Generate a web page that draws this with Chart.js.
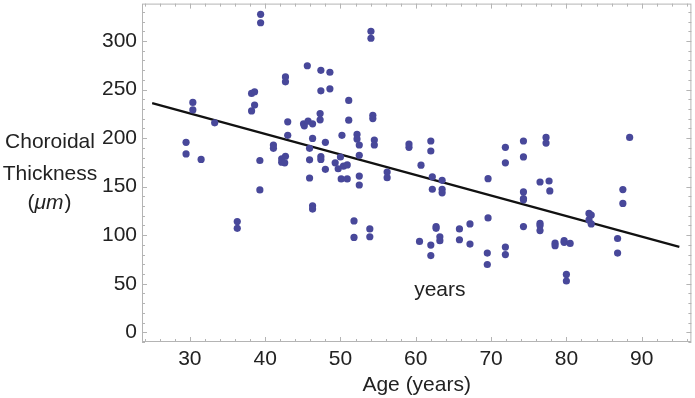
<!DOCTYPE html>
<html>
<head>
<meta charset="utf-8">
<script src="https://cdn.jsdelivr.net/npm/chart.js@4/dist/chart.umd.min.js"></script>
<style>
  html,body{margin:0;padding:0;background:#fff;}
  #wrap{width:695px;height:398px;}
</style>
</head>
<body>
<div id="wrap"><canvas id="choroid"></canvas></div>
<script>
// age (years) and choroidal thickness (um)
let ages=[39.4,39.4,45.6,47.4,48.6,42.7,42.7,47.4,48.6,38.2,38.6,30.4,30.4,38.6,38.2,47.3,47.3,33.3,43,45.1,45.2,45.7,46.3,43,29.5,29.5,31.5,41.1,41.1,46.3,48,45.9,39.3,42.2,42.7,42.2,42.6,45.9,47.4,47.4,48,45.9,49.3,49.7,50,
  54.05,54.05,51.1,51.1,54.3,54.3,50.2,52.2,52.2,52.5,54.5,54.5,59.1,59.1,62,62,71.9,71.9,74.3,74.3,52.5,50.4,50.9,60.7,56.2,56.2,52.5,50.1,50.9,62.2,63.5,69.6,
  77.3,77.3,88.4,76.5,77.7,
  39.3,46.3,46.3,36.3,36.3,
  52.5,62.2,63.5,63.5,74.3,74.3,74.3,51.8,51.8,53.9,53.9,60.5,62,62,62.7,62.7,63.2,63.2,65.8,65.8,67.2,67.2,69.6,69.5,69.5,71.9,71.9,74.3,
  77.8,76.5,76.5,76.5,78.5,78.5,79.7,79.7,80.5,80,80,83,83.3,83,83.3,87.5,87.5,86.8,86.8];
let thickness=[327.5,318.8,274.5,269.8,267.8,263,257.9,248.7,250.7,246,247.7,236.7,229,234,228,225.2,218.8,215.7,216.7,214.7,212.6,217.4,214.7,202.8,195.6,183.7,178,192.9,189.5,199.7,195.6,189.5,176.9,178.6,181.3,175.2,174.5,177.6,181,178,167.8,158.9,174.5,168.4,180.5,
  309.9,302.8,238.8,218.4,223.5,220.1,202.8,203.8,199,192.9,198,192.9,193.9,190.5,197,186.7,190.5,174.5,197,180.6,182.3,171.1,172.4,172.1,165,159.2,160.9,157.9,157.9,160.2,156.5,158.2,
  200.7,194.9,200.7,154.8,155.8,
  146.6,130.3,126.9,114,107.1,
  151.7,147.3,147.3,143.6,144.6,137.8,136.4,114.7,97.7,106.5,98.4,93.6,89.8,79,108.9,107.1,98.4,94.3,106.5,95.3,111.6,90.8,117.8,81.6,69.8,87.8,80,108.9,
  145.6,112.2,109.9,104.8,91.8,89.2,94.3,92.6,91.5,59.6,52.8,122.4,120.8,115.7,111.6,147,132.7,96.6,81.6];
// fitted trend line end points
let fitAges=[25,95];
let fitValues=[236,88];
let xTicks=[30,40,50,60,70,80,90];
let yTicks=[0,50,100,150,200,250,300];

var pts=[];
for(var i=0;i<ages.length;i++){
    pts.push({x:ages[i],y:thickness[i]});
}
var fit=[];
for(var i=0;i<fitAges.length;i++){
    fit.push({x:fitAges[i],y:fitValues[i]});
}

var FONT='"Liberation Sans", Arial, sans-serif';
var TXT='#222';

// frame with small inward ticks on all four sides, plus the extra labels
var framePlugin={
    id:'frame',
    afterDraw:function(chart){
        var ctx=chart.ctx, a=chart.chartArea;
        var xs=chart.scales.x, ys=chart.scales.y;
        ctx.save();
        ctx.strokeStyle='#b4b4b4';
        ctx.lineWidth=1;
        ctx.strokeRect(a.left+0.5,a.top+0.5,a.right-a.left-1,a.bottom-a.top-1);
        ctx.beginPath();
        for(var v=24;v<=96;v+=2){
            var px=Math.round(xs.getPixelForValue(v))+0.5;
            var len=(v%10===0)?5:3;
            ctx.moveTo(px,a.bottom);ctx.lineTo(px,a.bottom-len);
            ctx.moveTo(px,a.top);ctx.lineTo(px,a.top+len);
        }
        for(var v=-10;v<=330;v+=10){
            var py=Math.round(ys.getPixelForValue(v))+0.5;
            var len=(v%50===0)?5:3;
            ctx.moveTo(a.left,py);ctx.lineTo(a.left+len,py);
            ctx.moveTo(a.right,py);ctx.lineTo(a.right-len,py);
        }
        ctx.stroke();

        ctx.fillStyle=TXT;
        ctx.font='21px '+FONT;
        ctx.textAlign='center';
        ctx.textBaseline='alphabetic';
        ctx.fillText('Choroidal',50,148);
        ctx.fillText('Thickness',50,179.5);
        // (μm) with italic unit
        var open='(', unit='\u03bcm', close=')';
        ctx.font='21px '+FONT;
        var w1=ctx.measureText(open).width, w3=ctx.measureText(close).width;
        ctx.font='italic 21px '+FONT;
        var w2=ctx.measureText(unit).width;
        var x0=49-(w1+w2+w3)/2;
        ctx.textAlign='left';
        ctx.font='21px '+FONT;
        ctx.fillText(open,x0,209);
        ctx.font='italic 21px '+FONT;
        ctx.fillText(unit,x0+w1,209);
        ctx.font='21px '+FONT;
        ctx.fillText(close,x0+w1+w2+1,209);

        ctx.textAlign='center';
        ctx.fillText('years',xs.getPixelForValue(63.2),ys.getPixelForValue(37));
        ctx.restore();
    }
};

new Chart(document.getElementById('choroid'),{
    type:'scatter',
    data:{
        datasets:[{
            label:'Choroidal thickness',
            data:pts,
            backgroundColor:'#48489a',
            borderWidth:0,
            pointRadius:3.6,
            pointHoverRadius:3.6
        },{
            type:'line',
            label:'Fit',
            data:fit,
            borderColor:'#111',
            borderWidth:2.2,
            pointRadius:0,
            fill:false
        }]
    },
    options:{
        responsive:true,
        maintainAspectRatio:false,
        animation:false,
        layout:{padding:{top:1,right:1,left:0,bottom:0}},
        plugins:{legend:{display:false},tooltip:{enabled:false}},
        scales:{
            x:{
                type:'linear',
                min:23.65,max:96.6,
                afterFit:function(s){s.height=56;s.paddingLeft=0;s.paddingRight=0;},
                afterBuildTicks:function(s){s.ticks=xTicks.map(function(v){return {value:v};});},
                grid:{display:false,drawTicks:false},
                border:{display:false},
                ticks:{color:TXT,font:{family:FONT,size:21},padding:5,maxRotation:0},
                title:{display:true,text:'Age (years)',color:TXT,font:{family:FONT,size:21},padding:{top:0,bottom:0}}
            },
            y:{
                type:'linear',
                min:-10,max:338.5,
                afterFit:function(s){s.width=142;s.paddingTop=0;s.paddingBottom=0;},
                afterBuildTicks:function(s){s.ticks=yTicks.map(function(v){return {value:v};});},
                grid:{display:false,drawTicks:false},
                border:{display:false},
                ticks:{color:TXT,font:{family:FONT,size:21},padding:5}
            }
        }
    },
    plugins:[framePlugin]
});
</script>
</body>
</html>
